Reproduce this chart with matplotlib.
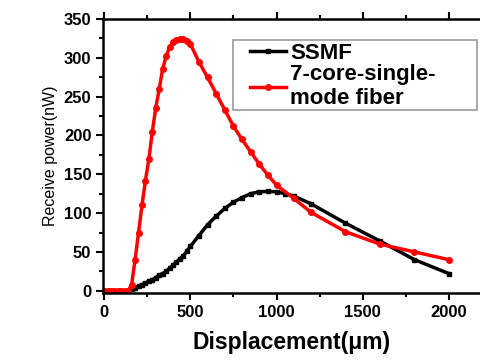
import numpy as np
import matplotlib.pyplot as plt
from matplotlib.patches import Rectangle

plt.rcParams['font.family'] = ['Liberation Sans', 'DejaVu Sans']

# SSMF (black)
x_ssmf = [0, 20, 40, 60, 80, 100, 120, 140, 160, 180, 200, 220, 240, 260, 280,
          300, 320, 340, 360, 380, 400, 420, 440, 460, 480, 500, 550, 600, 650,
          700, 750, 800, 850, 900, 950, 1000, 1050, 1100, 1200, 1400, 1600,
          1800, 2000]
y_ssmf = [0, 0, 0, 0, 0, 0, 0, 0, 2, 4, 6, 8, 10, 12, 14,
          17, 20, 22, 25, 29, 33, 37, 41, 45, 51, 57, 71, 85, 96,
          106, 114, 120, 125, 127.5, 128, 127.5, 125, 122, 112, 87, 64,
          40, 22]

# 7-core single-mode fiber (red)
x_mcf = [0, 20, 40, 60, 80, 100, 120, 140, 160, 180, 200, 220, 240, 260, 280,
         300, 320, 340, 360, 380, 400, 420, 440, 460, 480, 500, 550, 600, 650,
         700, 750, 800, 850, 900, 950, 1000, 1100, 1200, 1400, 1600, 1800, 2000]
y_mcf = [0, 0, 0, 0, 0, 0, 0, 0, 8, 40, 75, 110, 142, 170, 205,
         236, 260, 286, 302, 314, 320, 323, 324, 324, 322, 318, 295, 275, 254,
         233, 212, 195, 179, 163, 149, 136, 119, 101, 76, 60, 50, 40]

fig = plt.figure(figsize=(4.8, 3.6), dpi=100)
ax = fig.add_axes([0.215, 0.186, 0.785, 0.761])

ax.plot(x_ssmf, y_ssmf, color='black', lw=2.5, marker='s', ms=3.5, label='SSMF')
ax.plot(x_mcf, y_mcf, color='red', lw=2.5, marker='o', ms=4,
        label='7-core-single-\nmode fiber')

ax.set_xlim(-5, 2180)
ax.set_ylim(-3, 350)
ax.set_xticks([0, 500, 1000, 1500, 2000])
ax.set_xticks([250, 750, 1250, 1750], minor=True)
ax.set_yticks(range(0, 351, 50))
ax.set_yticks(range(25, 350, 50), minor=True)
ax.tick_params(which='both', direction='out', width=1.5, top=True)
ax.tick_params(which='major', length=5, labelsize=12)
ax.tick_params(which='minor', length=3)
for lab in ax.get_xticklabels() + ax.get_yticklabels():
    lab.set_fontweight('bold')
for s in ['left', 'bottom', 'top']:
    ax.spines[s].set_linewidth(1.8)
ax.spines['right'].set_visible(False)

ax.set_xlabel('Displacement(μm)', fontsize=16.5, fontweight='bold', labelpad=8)
ax.set_ylabel('Receive power(nW)', fontsize=11.5, labelpad=4)

# legend frame drawn separately (wide, with extra room on the right)
ax.add_patch(Rectangle((0.345, 0.668), 0.647, 0.255, transform=ax.transAxes,
                       facecolor='white', edgecolor='#999999', lw=1.2, zorder=4))
leg = ax.legend(loc='upper left', bbox_to_anchor=(0.39, 0.912),
                borderaxespad=0, frameon=False,
                prop={'weight': 'bold', 'size': 16},
                handlelength=1.6, handletextpad=0.2, borderpad=0.0,
                labelspacing=0.0)
leg.set_zorder(5)

fig.savefig('out.png', dpi=100)
